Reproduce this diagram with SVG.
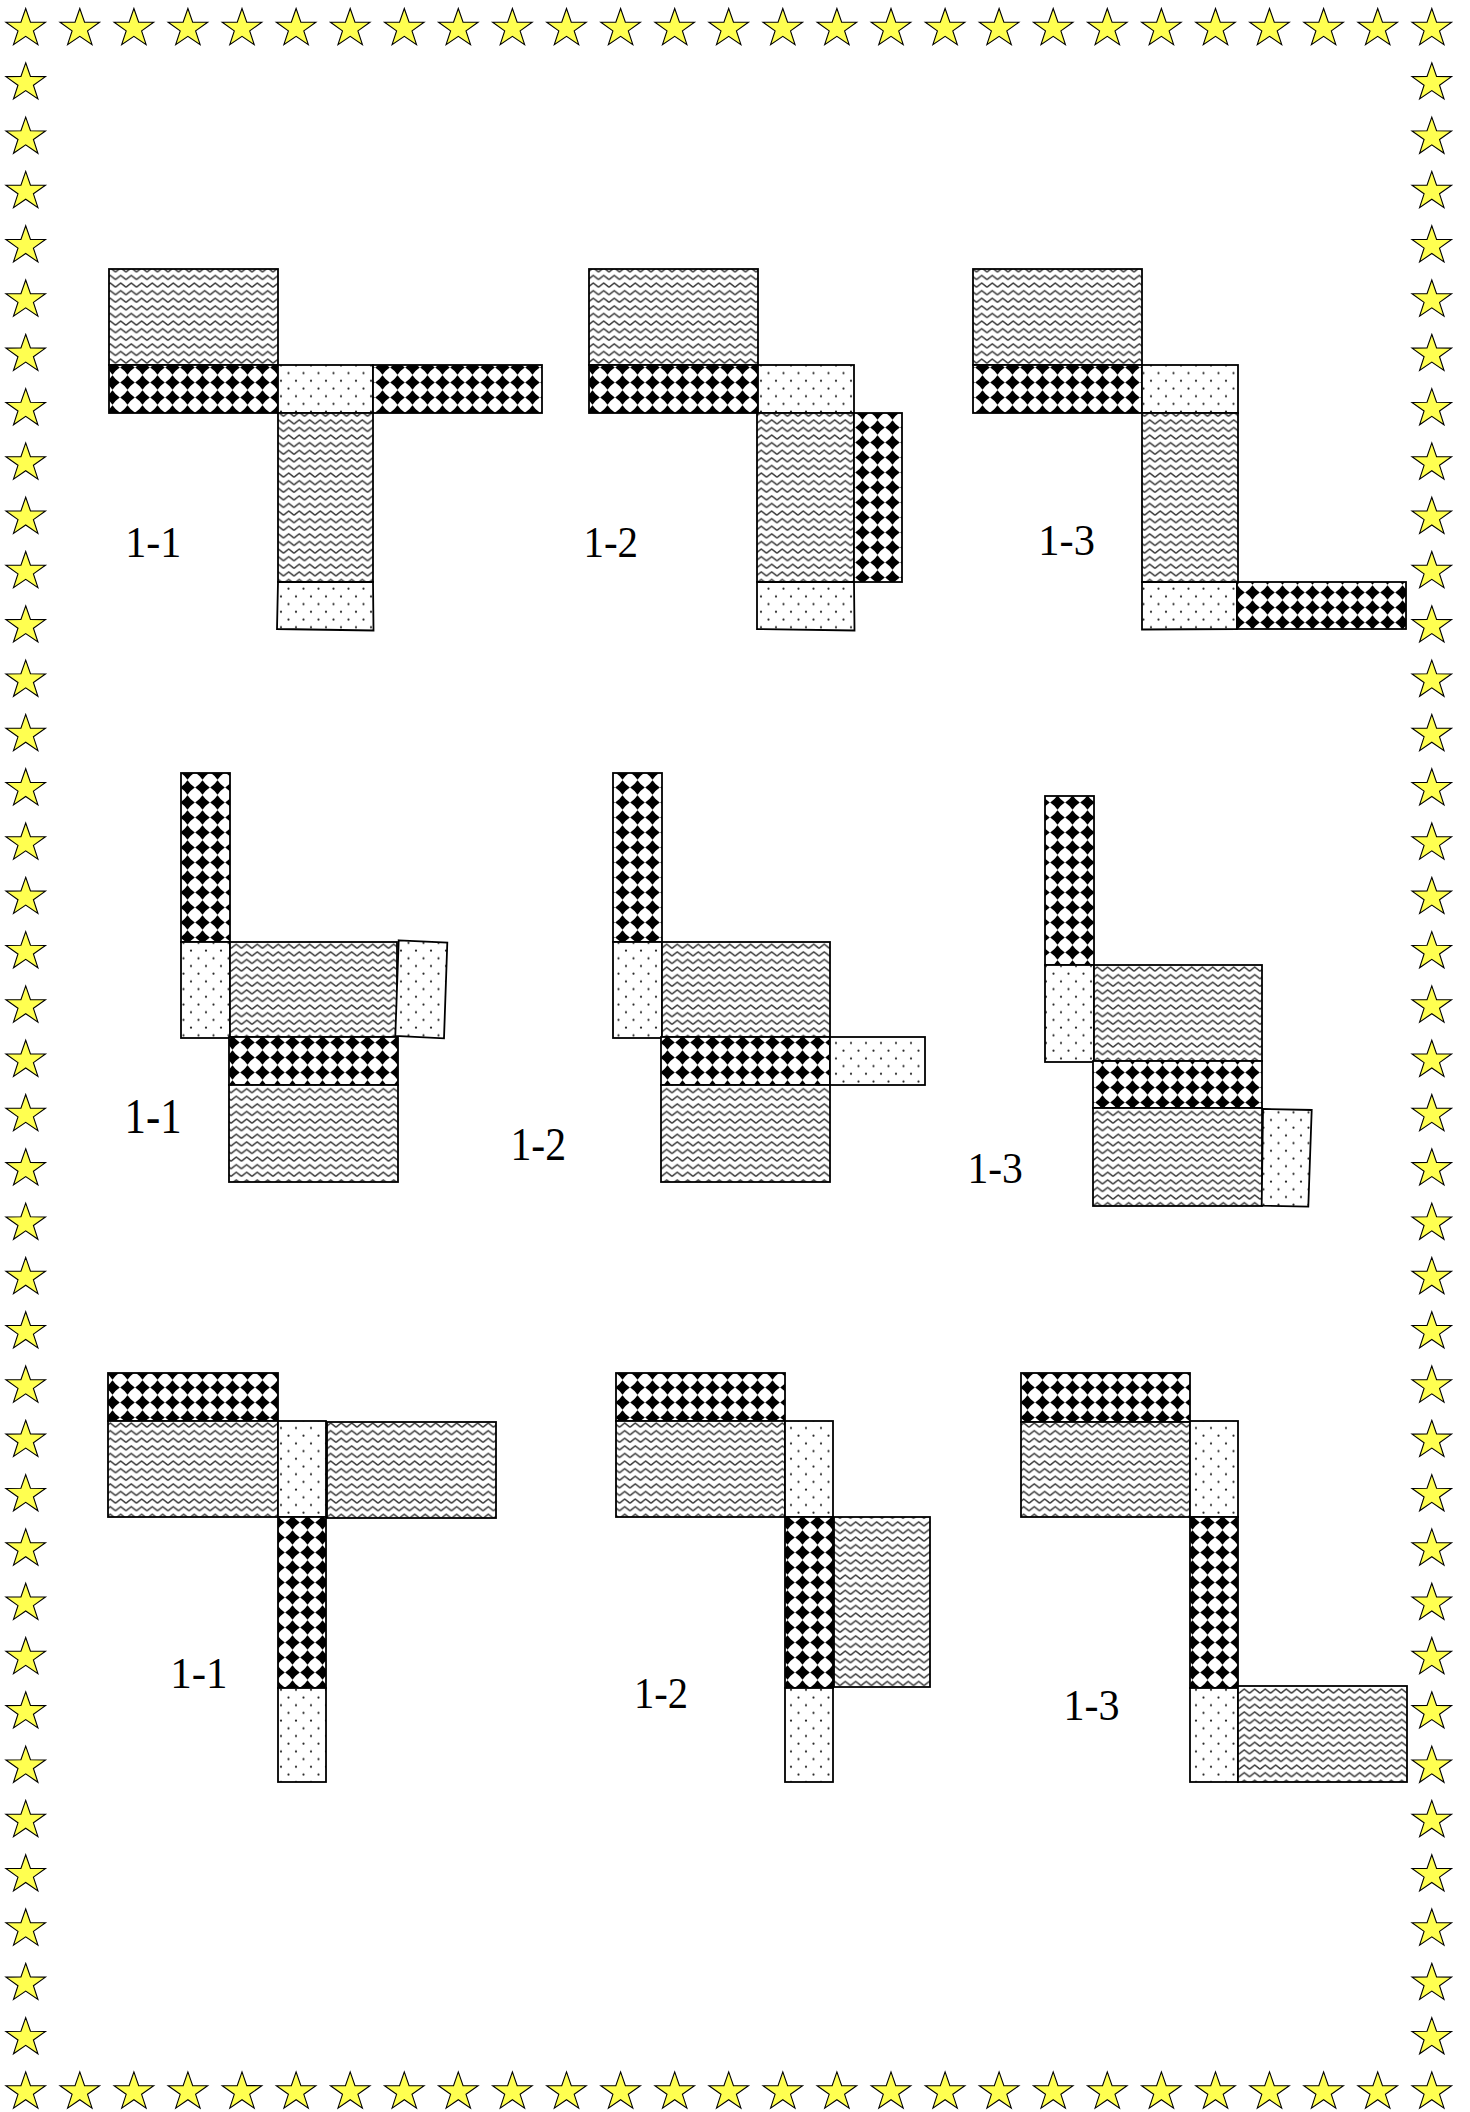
<svg xmlns="http://www.w3.org/2000/svg" xmlns:xlink="http://www.w3.org/1999/xlink" width="1470" height="2112" viewBox="0 0 1470 2112">
<style>
.f{stroke:#000;stroke-width:1.8}
.w{fill:url(#wavy)}
.c{fill:url(#checker)}
.d{fill:url(#dots)}
.lbl{font-family:"Liberation Serif","Times New Roman",serif;fill:#000}
.st{fill:#ffff50;stroke:#000;stroke-width:1.1;stroke-linejoin:miter}
</style>
<defs>
<pattern id="wavy" patternUnits="userSpaceOnUse" width="10.5" height="7.6">
<rect width="10.5" height="7.6" fill="#fff"/>
<path d="M0,6 L5.25,1.8 L10.5,6" fill="none" stroke="#3a3a3a" stroke-width="1.4"/>
</pattern>
<pattern id="checker" patternUnits="userSpaceOnUse" width="15" height="15">
<rect width="15" height="15" fill="#fff"/>
<path d="M7.5,0.2 Q10.4,4.6 14.8,7.5 Q10.4,10.4 7.5,14.8 Q4.6,10.4 0.2,7.5 Q4.6,4.6 7.5,0.2Z" fill="#000"/>
</pattern>
<pattern id="dots" patternUnits="userSpaceOnUse" width="15" height="15.4">
<rect width="15" height="15.4" fill="#fff"/>
<circle cx="3.5" cy="3.5" r="1.1" fill="#222"/>
<circle cx="11" cy="11.2" r="1.1" fill="#222"/>
</pattern>
<path id="star" class="st" d="M0,-20 L4.77,-6.31 L19.78,-6.18 L7.71,2.41 L12.23,16.18 L0,7.8 L-12.23,16.18 L-7.71,2.41 L-19.78,-6.18 L-4.77,-6.31 Z"/>
</defs>
<rect width="1470" height="2112" fill="#fff"/>

<g id="star-border">
<g id="stars-top">
<use href="#star" x="25.7" y="28.5"/><use href="#star" x="79.8" y="28.5"/><use href="#star" x="133.9" y="28.5"/><use href="#star" x="187.9" y="28.5"/><use href="#star" x="242" y="28.5"/><use href="#star" x="296.1" y="28.5"/><use href="#star" x="350.2" y="28.5"/><use href="#star" x="404.3" y="28.5"/><use href="#star" x="458.3" y="28.5"/><use href="#star" x="512.4" y="28.5"/><use href="#star" x="566.5" y="28.5"/><use href="#star" x="620.6" y="28.5"/><use href="#star" x="674.7" y="28.5"/><use href="#star" x="728.7" y="28.5"/><use href="#star" x="782.8" y="28.5"/><use href="#star" x="836.9" y="28.5"/><use href="#star" x="891" y="28.5"/><use href="#star" x="945.1" y="28.5"/><use href="#star" x="999.1" y="28.5"/><use href="#star" x="1053.2" y="28.5"/><use href="#star" x="1107.3" y="28.5"/><use href="#star" x="1161.4" y="28.5"/><use href="#star" x="1215.5" y="28.5"/><use href="#star" x="1269.5" y="28.5"/><use href="#star" x="1323.6" y="28.5"/><use href="#star" x="1377.7" y="28.5"/><use href="#star" x="1431.8" y="28.5"/>
</g>
<g id="stars-bottom">
<use href="#star" x="25.7" y="2091.9"/><use href="#star" x="79.8" y="2091.9"/><use href="#star" x="133.9" y="2091.9"/><use href="#star" x="187.9" y="2091.9"/><use href="#star" x="242" y="2091.9"/><use href="#star" x="296.1" y="2091.9"/><use href="#star" x="350.2" y="2091.9"/><use href="#star" x="404.3" y="2091.9"/><use href="#star" x="458.3" y="2091.9"/><use href="#star" x="512.4" y="2091.9"/><use href="#star" x="566.5" y="2091.9"/><use href="#star" x="620.6" y="2091.9"/><use href="#star" x="674.7" y="2091.9"/><use href="#star" x="728.7" y="2091.9"/><use href="#star" x="782.8" y="2091.9"/><use href="#star" x="836.9" y="2091.9"/><use href="#star" x="891" y="2091.9"/><use href="#star" x="945.1" y="2091.9"/><use href="#star" x="999.1" y="2091.9"/><use href="#star" x="1053.2" y="2091.9"/><use href="#star" x="1107.3" y="2091.9"/><use href="#star" x="1161.4" y="2091.9"/><use href="#star" x="1215.5" y="2091.9"/><use href="#star" x="1269.5" y="2091.9"/><use href="#star" x="1323.6" y="2091.9"/><use href="#star" x="1377.7" y="2091.9"/><use href="#star" x="1431.8" y="2091.9"/>
</g>
<g id="stars-left">
<use href="#star" x="25.7" y="82.8"/><use href="#star" x="25.7" y="137.1"/><use href="#star" x="25.7" y="191.4"/><use href="#star" x="25.7" y="245.7"/><use href="#star" x="25.7" y="300"/><use href="#star" x="25.7" y="354.3"/><use href="#star" x="25.7" y="408.6"/><use href="#star" x="25.7" y="462.9"/><use href="#star" x="25.7" y="517.2"/><use href="#star" x="25.7" y="571.5"/><use href="#star" x="25.7" y="625.8"/><use href="#star" x="25.7" y="680.1"/><use href="#star" x="25.7" y="734.4"/><use href="#star" x="25.7" y="788.7"/><use href="#star" x="25.7" y="843"/><use href="#star" x="25.7" y="897.3"/><use href="#star" x="25.7" y="951.6"/><use href="#star" x="25.7" y="1005.9"/><use href="#star" x="25.7" y="1060.2"/><use href="#star" x="25.7" y="1114.5"/><use href="#star" x="25.7" y="1168.8"/><use href="#star" x="25.7" y="1223.1"/><use href="#star" x="25.7" y="1277.4"/><use href="#star" x="25.7" y="1331.7"/><use href="#star" x="25.7" y="1386"/><use href="#star" x="25.7" y="1440.3"/><use href="#star" x="25.7" y="1494.6"/><use href="#star" x="25.7" y="1548.9"/><use href="#star" x="25.7" y="1603.2"/><use href="#star" x="25.7" y="1657.5"/><use href="#star" x="25.7" y="1711.8"/><use href="#star" x="25.7" y="1766.1"/><use href="#star" x="25.7" y="1820.4"/><use href="#star" x="25.7" y="1874.7"/><use href="#star" x="25.7" y="1929"/><use href="#star" x="25.7" y="1983.3"/><use href="#star" x="25.7" y="2037.6"/>
</g>
<g id="stars-right">
<use href="#star" x="1431.8" y="82.8"/><use href="#star" x="1431.8" y="137.1"/><use href="#star" x="1431.8" y="191.4"/><use href="#star" x="1431.8" y="245.7"/><use href="#star" x="1431.8" y="300"/><use href="#star" x="1431.8" y="354.3"/><use href="#star" x="1431.8" y="408.6"/><use href="#star" x="1431.8" y="462.9"/><use href="#star" x="1431.8" y="517.2"/><use href="#star" x="1431.8" y="571.5"/><use href="#star" x="1431.8" y="625.8"/><use href="#star" x="1431.8" y="680.1"/><use href="#star" x="1431.8" y="734.4"/><use href="#star" x="1431.8" y="788.7"/><use href="#star" x="1431.8" y="843"/><use href="#star" x="1431.8" y="897.3"/><use href="#star" x="1431.8" y="951.6"/><use href="#star" x="1431.8" y="1005.9"/><use href="#star" x="1431.8" y="1060.2"/><use href="#star" x="1431.8" y="1114.5"/><use href="#star" x="1431.8" y="1168.8"/><use href="#star" x="1431.8" y="1223.1"/><use href="#star" x="1431.8" y="1277.4"/><use href="#star" x="1431.8" y="1331.7"/><use href="#star" x="1431.8" y="1386"/><use href="#star" x="1431.8" y="1440.3"/><use href="#star" x="1431.8" y="1494.6"/><use href="#star" x="1431.8" y="1548.9"/><use href="#star" x="1431.8" y="1603.2"/><use href="#star" x="1431.8" y="1657.5"/><use href="#star" x="1431.8" y="1711.8"/><use href="#star" x="1431.8" y="1766.1"/><use href="#star" x="1431.8" y="1820.4"/><use href="#star" x="1431.8" y="1874.7"/><use href="#star" x="1431.8" y="1929"/><use href="#star" x="1431.8" y="1983.3"/><use href="#star" x="1431.8" y="2037.6"/>
</g>
</g>

<g id="net-row1-1">
<rect class="f w" x="109" y="269" width="169" height="96"/>
<rect class="f c" x="109" y="365" width="169" height="48"/>
<rect class="f d" x="278" y="365" width="95" height="48"/>
<rect class="f c" x="373" y="365" width="169" height="48"/>
<rect class="f w" x="278" y="413" width="95" height="169"/>
<polygon class="f d" points="278,582 373,582 373.5,630.5 277,629"/>
<text class="lbl" x="125.3" y="557" font-size="44" textLength="56.1" lengthAdjust="spacingAndGlyphs">1-1</text>
</g>

<g id="net-row1-2">
<rect class="f w" x="589" y="269" width="169" height="96"/>
<rect class="f c" x="589" y="365" width="169" height="48"/>
<rect class="f d" x="758" y="365" width="96" height="48"/>
<rect class="f w" x="757" y="413" width="97" height="169"/>
<rect class="f c" x="854" y="413" width="48" height="169"/>
<polygon class="f d" points="757,582 854,582 854.5,630.5 757,629"/>
<text class="lbl" x="583.5" y="557" font-size="44" textLength="54.6" lengthAdjust="spacingAndGlyphs">1-2</text>
</g>

<g id="net-row1-3">
<rect class="f w" x="973" y="269" width="169" height="96"/>
<rect class="f c" x="973" y="365" width="169" height="48"/>
<rect class="f d" x="1142" y="365" width="96" height="48"/>
<rect class="f w" x="1142" y="413" width="96" height="169"/>
<polygon class="f d" points="1142,582 1237,582 1237,629 1142,629.5"/>
<rect class="f c" x="1237" y="582" width="169" height="47"/>
<text class="lbl" x="1038.3" y="554.5" font-size="44" textLength="56.6" lengthAdjust="spacingAndGlyphs">1-3</text>
</g>

<g id="net-row2-1">
<rect class="f c" x="181" y="773" width="49" height="169"/>
<rect class="f d" x="181" y="942" width="49" height="96"/>
<rect class="f w" x="230" y="942" width="167" height="95"/>
<polygon class="f d" points="398.7,940.3 447.3,942.7 444,1038.3 395.3,1036"/>
<rect class="f c" x="229" y="1037" width="169" height="48"/>
<rect class="f w" x="229" y="1085" width="169" height="97"/>
<text class="lbl" x="124.6" y="1133" font-size="50" textLength="57" lengthAdjust="spacingAndGlyphs">1-1</text>
</g>

<g id="net-row2-2">
<rect class="f c" x="613" y="773" width="49" height="169"/>
<rect class="f d" x="613" y="942" width="49" height="96"/>
<rect class="f w" x="662" y="942" width="168" height="95"/>
<rect class="f c" x="661" y="1037" width="169" height="48"/>
<rect class="f d" x="830" y="1037" width="95" height="48"/>
<rect class="f w" x="661" y="1085" width="169" height="97"/>
<text class="lbl" x="510.4" y="1160" font-size="47" textLength="55.7" lengthAdjust="spacingAndGlyphs">1-2</text>
</g>

<g id="net-row2-3">
<rect class="f c" x="1045" y="796" width="49" height="169"/>
<rect class="f d" x="1045" y="965" width="49" height="97"/>
<rect class="f w" x="1094" y="965" width="168" height="96"/>
<rect class="f c" x="1093" y="1061" width="169" height="47"/>
<rect class="f w" x="1093" y="1108" width="169" height="98"/>
<polygon class="f d" points="1263,1109 1311.7,1110 1308.3,1206.7 1261.7,1205.7"/>
<text class="lbl" x="967.4" y="1182.7" font-size="44" textLength="55.5" lengthAdjust="spacingAndGlyphs">1-3</text>
</g>

<g id="net-row3-1">
<rect class="f c" x="108" y="1373" width="170" height="48"/>
<rect class="f w" x="108" y="1421" width="170" height="96"/>
<rect class="f d" x="278" y="1421" width="48" height="96"/>
<rect class="f w" x="327" y="1422" width="169" height="96"/>
<rect class="f c" x="278" y="1517" width="48" height="171"/>
<rect class="f d" x="278" y="1688" width="48" height="94"/>
<text class="lbl" x="170.2" y="1688" font-size="44" textLength="57.3" lengthAdjust="spacingAndGlyphs">1-1</text>
</g>

<g id="net-row3-2">
<rect class="f c" x="616" y="1373" width="169" height="48"/>
<rect class="f w" x="616" y="1421" width="169" height="96"/>
<rect class="f d" x="785" y="1421" width="48" height="96"/>
<rect class="f c" x="785" y="1517" width="48" height="171"/>
<rect class="f w" x="834" y="1517" width="96" height="170"/>
<rect class="f d" x="785" y="1688" width="48" height="94"/>
<text class="lbl" x="634" y="1708" font-size="44" textLength="54" lengthAdjust="spacingAndGlyphs">1-2</text>
</g>

<g id="net-row3-3">
<rect class="f c" x="1021" y="1373" width="169" height="49"/>
<rect class="f w" x="1021" y="1422" width="169" height="95"/>
<rect class="f d" x="1190" y="1421" width="48" height="96"/>
<rect class="f c" x="1190" y="1517" width="48" height="171"/>
<rect class="f d" x="1190" y="1688" width="48" height="94"/>
<rect class="f w" x="1238" y="1686" width="169" height="96"/>
<text class="lbl" x="1063.6" y="1720" font-size="45" textLength="56" lengthAdjust="spacingAndGlyphs">1-3</text>
</g>
</svg>
